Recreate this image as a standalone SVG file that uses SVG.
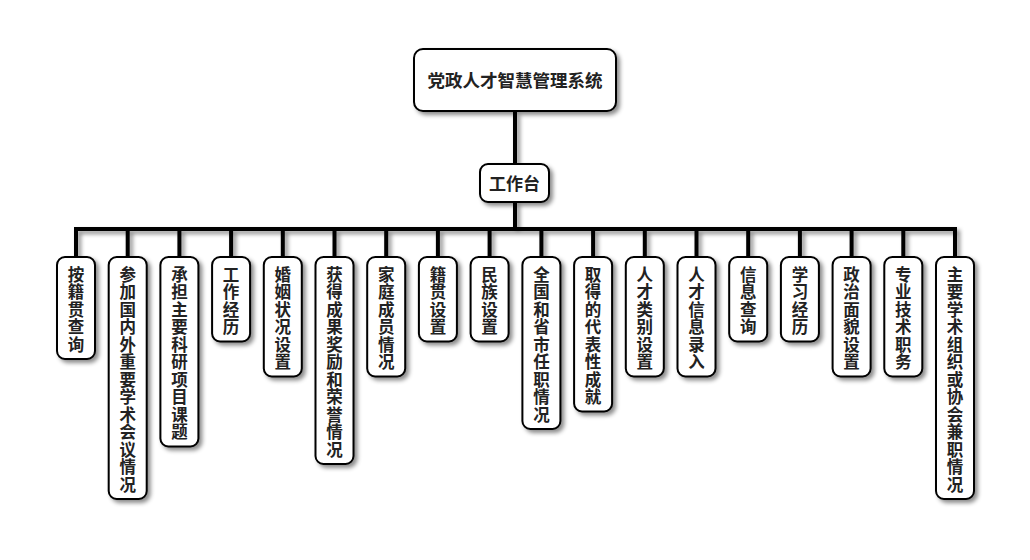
<svg xmlns="http://www.w3.org/2000/svg" width="1030" height="560" viewBox="0 0 1030 560">
<defs>
<filter id="sh" x="-30%" y="-30%" width="160%" height="160%">
<feDropShadow dx="3" dy="3" stdDeviation="2" flood-color="#000" flood-opacity="0.45"/>
</filter>
<style>
.box{fill:#fff;stroke:#000;stroke-width:2;filter:url(#sh)}
.t{font-family:"Noto Sans CJK SC","Noto Sans",sans-serif;font-weight:bold;font-size:17px;fill:#222;text-anchor:middle}
.v{font-size:16.5px;writing-mode:vertical-rl;text-orientation:upright;letter-spacing:1px;text-anchor:start}
.conn{fill:none;stroke:#000;stroke-width:4;stroke-linejoin:miter}
</style>
</defs>
<rect width="1030" height="560" fill="#fff"/>
<g id="connectors" filter="url(#sh)">
<path class="conn" d="M515 112V164M515 202V229M76 257V229H955V257M127.7 229V257M179.4 229V257M231.1 229V257M282.8 229V257M334.5 229V257M386.2 229V257M437.9 229V257M489.6 229V257M541.4 229V257M593.1 229V257M644.8 229V257M696.5 229V257M748.2 229V257M799.9 229V257M851.6 229V257M903.3 229V257"/>
</g>
<g id="root"><rect class="box" x="414" y="49" width="202" height="62" rx="9"/><text class="t" x="515" y="87" style="font-size:17.5px">党政人才智慧管理系统</text></g>
<g id="workbench"><rect class="box" x="480" y="164" width="69" height="38" rx="8"/><text class="t" x="514.5" y="190">工作台</text></g>
<g id="n0"><rect class="box" x="57" y="257" width="38" height="102" rx="8"/><text class="t v" x="76" y="266">按籍贯查询</text></g>
<g id="n1"><rect class="box" x="108.7" y="257" width="38" height="242" rx="8"/><text class="t v" x="127.7" y="266">参加国内外重要学术会议情况</text></g>
<g id="n2"><rect class="box" x="160.4" y="257" width="38" height="189.5" rx="8"/><text class="t v" x="179.4" y="266">承担主要科研项目课题</text></g>
<g id="n3"><rect class="box" x="212.1" y="257" width="38" height="84.5" rx="8"/><text class="t v" x="231.1" y="266">工作经历</text></g>
<g id="n4"><rect class="box" x="263.8" y="257" width="38" height="119.5" rx="8"/><text class="t v" x="282.8" y="266">婚姻状况设置</text></g>
<g id="n5"><rect class="box" x="315.5" y="257" width="38" height="207" rx="8"/><text class="t v" x="334.5" y="266">获得成果奖励和荣誉情况</text></g>
<g id="n6"><rect class="box" x="367.2" y="257" width="38" height="119.5" rx="8"/><text class="t v" x="386.2" y="266">家庭成员情况</text></g>
<g id="n7"><rect class="box" x="418.9" y="257" width="38" height="84.5" rx="8"/><text class="t v" x="437.9" y="266">籍贯设置</text></g>
<g id="n8"><rect class="box" x="470.6" y="257" width="38" height="84.5" rx="8"/><text class="t v" x="489.6" y="266">民族设置</text></g>
<g id="n9"><rect class="box" x="522.4" y="257" width="38" height="172" rx="8"/><text class="t v" x="541.4" y="266">全国和省市任职情况</text></g>
<g id="n10"><rect class="box" x="574.1" y="257" width="38" height="154.5" rx="8"/><text class="t v" x="593.1" y="266">取得的代表性成就</text></g>
<g id="n11"><rect class="box" x="625.8" y="257" width="38" height="119.5" rx="8"/><text class="t v" x="644.8" y="266">人才类别设置</text></g>
<g id="n12"><rect class="box" x="677.5" y="257" width="38" height="119.5" rx="8"/><text class="t v" x="696.5" y="266">人才信息录入</text></g>
<g id="n13"><rect class="box" x="729.2" y="257" width="38" height="84.5" rx="8"/><text class="t v" x="748.2" y="266">信息查询</text></g>
<g id="n14"><rect class="box" x="780.9" y="257" width="38" height="84.5" rx="8"/><text class="t v" x="799.9" y="266">学习经历</text></g>
<g id="n15"><rect class="box" x="832.6" y="257" width="38" height="119.5" rx="8"/><text class="t v" x="851.6" y="266">政治面貌设置</text></g>
<g id="n16"><rect class="box" x="884.3" y="257" width="38" height="119.5" rx="8"/><text class="t v" x="903.3" y="266">专业技术职务</text></g>
<g id="n17"><rect class="box" x="936" y="257" width="38" height="242" rx="8"/><text class="t v" x="955" y="266">主要学术组织或协会兼职情况</text></g>
</svg>
